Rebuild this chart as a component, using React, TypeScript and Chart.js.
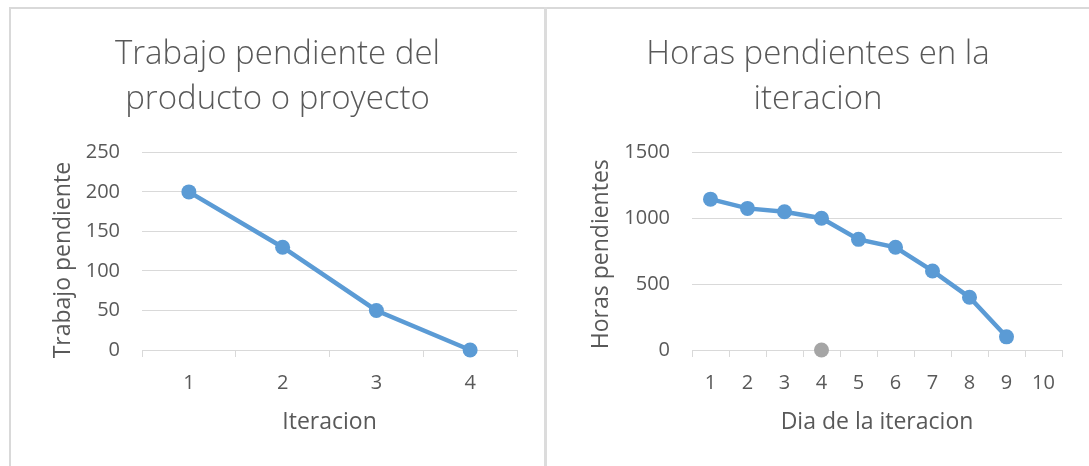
import React, { useEffect, useRef } from "react";
import { Chart, registerables } from "chart.js";

Chart.register(...registerables);

// ---- Data ----
const iterationLabels = ["1", "2", "3", "4"];
const workRemaining = [200, 130, 50, 0];

const dayLabels = ["1", "2", "3", "4", "5", "6", "7", "8", "9", "10"];
const hoursRemaining = [1145, 1075, 1050, 1000, 840, 780, 600, 400, 100, null];
const grayPointSeries = [null, null, null, 0, null, null, null, null, null, null];

const leftTitle = ["Trabajo pendiente del", "producto o proyecto"];
const rightTitle = ["Horas pendientes en la", "iteracion"];

const FONT = "'Open Sans', 'DejaVu Sans', sans-serif";
const TEXT = "#595959";
const GRID = "#d9d9d9";
const BLUE = "#5b9bd5";
const GRAY = "#a5a5a5";

type Cfg = {
  labels: string[];
  datasets: any[];
  title: string[];
  yTitle: string;
  xTitle: string;
  yMax: number;
  yStep: number;
  yWidth: number;
  yTitlePad: number;
  width: number;
  height: number;
};

function makeConfig(c: Cfg): any {
  return {
    type: "line",
    data: { labels: c.labels, datasets: c.datasets },
    options: {
      responsive: false,
      animation: false,
      devicePixelRatio: 1,
      layout: { padding: { left: 27, right: 27, top: 0, bottom: 0 } },
      plugins: {
        legend: { display: false },
        tooltip: { enabled: false },
        title: {
          display: true,
          text: c.title,
          color: TEXT,
          font: { family: FONT, size: 33, weight: "300", lineHeight: 1.35 },
          padding: { top: 23.3, bottom: 31 },
        },
      },
      scales: {
        x: {
          type: "category",
          offset: true,
          grid: {
            display: true,
            drawOnChartArea: false,
            drawTicks: true,
            tickLength: 7,
            color: GRID,
            offset: true,
          },
          border: { display: true, color: GRID, width: 1 },
          ticks: { color: TEXT, font: { family: FONT, size: 20 }, padding: 14, maxRotation: 0, autoSkip: false },
          title: {
            display: true,
            text: c.xTitle,
            color: TEXT,
            font: { family: FONT, size: 23 },
            padding: { top: 0, bottom: 30 },
          },
          afterFit: (s: any) => {
            s.height = 116;
          },
        },
        y: {
          min: 0,
          max: c.yMax,
          grid: { color: GRID, drawTicks: false, lineWidth: 1 },
          border: { display: false },
          ticks: {
            stepSize: c.yStep,
            color: TEXT,
            font: { family: FONT, size: 20 },
            padding: 22,
            callback: (v: any) => String(v),
          },
          title: {
            display: true,
            text: c.yTitle,
            color: TEXT,
            font: { family: FONT, size: 23 },
            padding: { top: c.yTitlePad, bottom: 0 },
          },
          afterFit: (s: any) => {
            s.width = c.yWidth;
          },
        },
      },
    },
  };
}

function LineChart({ cfg, style }: { cfg: Cfg; style: React.CSSProperties }) {
  const ref = useRef<HTMLCanvasElement | null>(null);
  useEffect(() => {
    if (!ref.current) return;
    const chart = new Chart(ref.current, makeConfig(cfg));
    return () => chart.destroy();
  }, []);
  return <canvas ref={ref} width={cfg.width} height={cfg.height} style={{ position: "absolute", ...style }} />;
}

const lineDataset = (data: (number | null)[], color: string, showLine: boolean) => ({
  data,
  borderColor: color,
  backgroundColor: color,
  borderWidth: 4.5,
  pointRadius: 7.5,
  pointBorderWidth: 0,
  pointBackgroundColor: color,
  pointBorderColor: color,
  showLine,
  tension: 0,
  clip: false,
  spanGaps: false,
});

export default function App() {
  const leftCfg: Cfg = {
    labels: iterationLabels,
    datasets: [lineDataset(workRemaining, BLUE, true)],
    title: leftTitle,
    yTitle: "Trabajo pendiente   ",
    xTitle: "Iteracion",
    yMax: 250,
    yStep: 50,
    yWidth: 104,
    yTitlePad: 11.6,
    width: 533,
    height: 457,
  };
  const rightCfg: Cfg = {
    labels: dayLabels,
    datasets: [lineDataset(hoursRemaining, BLUE, true), lineDataset(grayPointSeries, GRAY, false)],
    title: rightTitle,
    yTitle: "Horas pendientes ",
    xTitle: "Dia de la iteracion",
    yMax: 1500,
    yStep: 500,
    yWidth: 118,
    yTitlePad: 13.6,
    width: 542,
    height: 457,
  };
  return (
    <div style={{ position: "absolute", left: 0, top: 0, width: 1089, height: 466, background: "#fff", overflow: "hidden" }}>
      <div style={{ position: "absolute", left: 9, top: 7, width: 1080, height: 2, background: GRID }} />
      <div style={{ position: "absolute", left: 9, top: 7, width: 2, height: 459, background: GRID }} />
      <div style={{ position: "absolute", left: 544, top: 7, width: 3, height: 459, background: "#dcdcdc" }} />
      <LineChart cfg={leftCfg} style={{ left: 11, top: 9 }} />
      <LineChart cfg={rightCfg} style={{ left: 547, top: 9 }} />
    </div>
  );
}
